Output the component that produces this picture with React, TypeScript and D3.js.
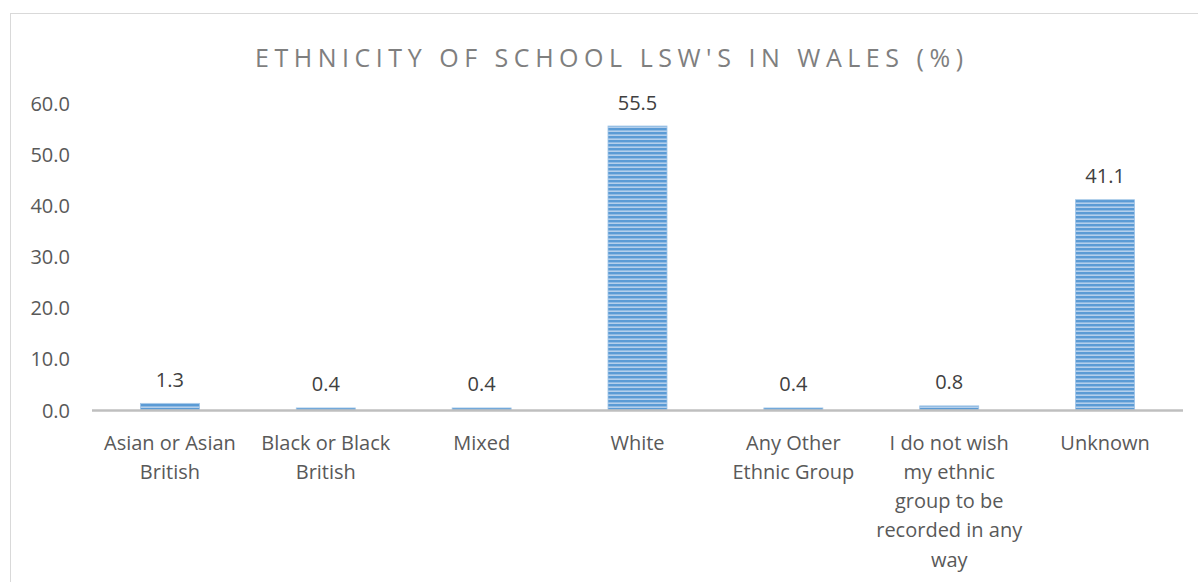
import React from "react";
import * as d3 from "d3";

const categories: string[] = [
  "Asian or Asian\nBritish",
  "Black or Black\nBritish",
  "Mixed",
  "White",
  "Any Other\nEthnic Group",
  "I do not wish\nmy ethnic\ngroup to be\nrecorded in any\nway",
];
const extraCategory = "Unknown";
const allCategories = [...categories, extraCategory];
const values: number[] = [1.3, 0.4, 0.4, 55.5, 0.4, 0.8, 41.1];
const yTicks: number[] = [0, 10, 20, 30, 40, 50, 60];
const title = "ETHNICITY OF SCHOOL LSW'S IN WALES (%)";

const W = 1198;
const H = 582;
const FONT = "'Open Sans', 'DejaVu Sans', sans-serif";

export default function App() {
  const x = d3
    .scaleBand<string>()
    .domain(allCategories)
    .range([92, 1183])
    .paddingInner(0.62)
    .paddingOuter(0.31);
  const y = d3.scaleLinear().domain([0, 60]).range([410, 103]);
  const bw = 59;

  return (
    <svg
      width={W}
      height={H}
      style={{ position: "absolute", left: 0, top: 0, background: "#fff" }}
    >
      <defs>
        <pattern id="hstripe" width="8" height="4" patternUnits="userSpaceOnUse">
          <rect x="0" y="0" width="8" height="4" fill="#b4cfec" />
          <rect x="0" y="0" width="8" height="2.4" fill="#5b9bd5" />
        </pattern>
      </defs>
      <rect x={10.5} y={13.5} width={1200} height={600} fill="#fff" stroke="#d9d9d9" strokeWidth={1} />
      <text
        x={609}
        y={57}
        textAnchor="middle"
        dominantBaseline="central"
        fontFamily={FONT}
        fontSize={25}
        fill="#7f7f7f"
        textLength={708}
        lengthAdjust="spacing"
      >
        {title}
      </text>
      {yTicks.map((t) => (
        <text
          key={t}
          x={70}
          y={y(t)}
          textAnchor="end"
          dominantBaseline="central"
          fontFamily={FONT}
          fontSize={20}
          fill="#595959"
        >
          {d3.format(".1f")(t)}
        </text>
      ))}
      {allCategories.map((c, i) => {
        const cx = (x(c) as number) + x.bandwidth() / 2;
        const top = y(values[i]);
        return (
          <g key={c}>
            <rect
              x={cx - bw / 2}
              y={top}
              width={bw}
              height={Math.max(0, y(0) - top)}
              fill="url(#hstripe)"
              stroke="#9dc3e6"
              strokeWidth={0.8}
            />
            <text
              x={cx}
              y={top - 24}
              textAnchor="middle"
              dominantBaseline="central"
              fontFamily={FONT}
              fontSize={20}
              fill="#404040"
            >
              {d3.format(".1f")(values[i])}
            </text>
            {c.split("\n").map((line, j) => (
              <text
                key={j}
                x={cx}
                y={442 + j * 29.3}
                textAnchor="middle"
                dominantBaseline="central"
                fontFamily={FONT}
                fontSize={20}
                fill="#595959"
              >
                {line}
              </text>
            ))}
          </g>
        );
      })}
      <line x1={92} x2={1183} y1={410.5} y2={410.5} stroke="#bfbfbf" strokeWidth={2.5} />
    </svg>
  );
}
